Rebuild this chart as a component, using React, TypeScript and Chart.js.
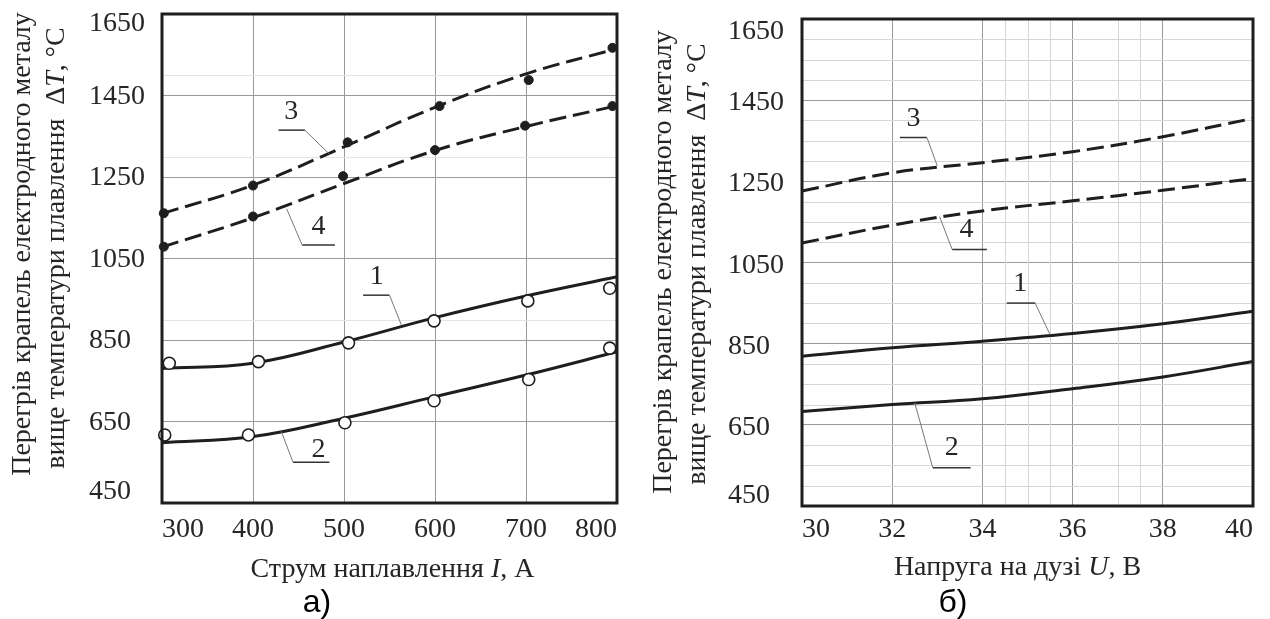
import React, { useEffect, useRef } from 'react';
import { Chart, registerables } from 'chart.js';

Chart.register(...registerables);

// ---- Panel а: drop overheating vs. welding current ----
const currentI = [300, 400, 500, 600, 700, 800];
const fit1I = [780, 793, 845, 905, 958, 1005];
const fit2I = [598, 613, 658, 711, 764, 821];
const fit3I = [1160, 1230, 1324, 1421, 1503, 1565];
const fit4I = [1078, 1150, 1234, 1315, 1374, 1425];

// measured points, panel а
const pts1I = [308, 406, 505, 599, 702, 792];
const pts1T = [793, 797, 843, 897, 946, 977];
const pts2I = [303, 395, 501, 599, 703, 792];
const pts2T = [617, 617, 647, 701, 753, 830];
const pts3I = [302, 400, 504, 605, 703, 795];
const pts3T = [1161, 1229, 1335, 1424, 1488, 1567];
const pts4I = [302, 400, 499, 600, 699, 795];
const pts4T = [1079, 1153, 1252, 1316, 1376, 1424];

// ---- Panel б: drop overheating vs. arc voltage ----
const voltageU = [30, 32, 34, 36, 38, 40];
const fit1U = [819, 840, 856, 875, 899, 930];
const fit2U = [683, 700, 714, 739, 768, 806];
const fit3U = [1226, 1271, 1296, 1323, 1360, 1405];
const fit4U = [1098, 1142, 1177, 1202, 1228, 1257];

// axis ticks
const tempTicks = [450, 650, 850, 1050, 1250, 1450, 1650];
const currentTicks = [300, 400, 500, 600, 700, 800];
const voltageTicks = [30, 32, 34, 36, 38, 40];

// light graph-paper lines
const minorTempA = [900, 1300, 1500];
const minorTempB = [500, 550, 600, 700, 750, 800, 900, 950, 1000, 1100, 1150, 1200, 1300, 1350, 1400, 1500, 1550, 1600];
const minorVoltB = [34.5, 35, 35.5, 37, 37.5];

const SERIF = '"Liberation Serif", "Times New Roman", serif';
const SANS = '"Liberation Sans", Arial, sans-serif';
const INK = '#1e1e1e';
const TEXT = '#262626';
const FONT = 28;

type Run = { text: string; italic?: boolean };
type Note = {
  label: string;
  at: [number, number];
  under: [number, number, number];
  tip: [number, number];
  fromRight: boolean;
};
type Curve = { x: number[]; y: number[]; dashed: boolean };
type Marks = { x: number[]; y: number[]; filled: boolean };

type PanelCfg = {
  id: string;
  offsetX: number;
  yAxisWidth: number;
  padTop: number;
  padRight: number;
  xAxisHeight: number;
  xTickPad: number;
  xMin: number;
  xMax: number;
  xTicks: number[];
  curves: Curve[];
  marks: Marks[];
  minorX: number[];
  minorY: number[];
  minorColor: string;
  notes: Note[];
  xTitle: Run[];
  xTitleDx: number;
  xTitleBase: number;
  yTitle: [Run[], Run[]];
  yTitleX: [number, number];
  yTitleY: [number, number];
  yLabelDx: number;
  yLabelMid: number;
  yLabelTop: number;
  yLabelBottom: number;
  caption: string;
  captionX: number;
  captionBase: number;
};

const yTitleLines: [Run[], Run[]] = [
  [{ text: 'Перегрів крапель електродного металу' }],
  [{ text: 'вище температури плавлення  Δ' }, { text: 'T', italic: true }, { text: ', °C' }],
];

function drawRuns(ctx: CanvasRenderingContext2D, runs: Run[], x: number, y: number, size: number) {
  const fonts = runs.map((r) => `${r.italic ? 'italic ' : ''}${size}px ${SERIF}`);
  const widths = runs.map((r, i) => {
    ctx.font = fonts[i];
    return ctx.measureText(r.text).width;
  });
  const total = widths.reduce((a, b) => a + b, 0);
  let cx = x - total / 2;
  ctx.textAlign = 'left';
  runs.forEach((r, i) => {
    ctx.font = fonts[i];
    ctx.fillText(r.text, cx, y);
    cx += widths[i];
  });
}

const panelA: PanelCfg = {
  id: 'a',
  offsetX: 0,
  yAxisWidth: 162,
  padTop: 14,
  padRight: 18,
  xAxisHeight: 116,
  xTickPad: 10,
  xMin: 300,
  xMax: 800,
  xTicks: currentTicks,
  curves: [
    { x: currentI, y: fit1I, dashed: false },
    { x: currentI, y: fit2I, dashed: false },
    { x: currentI, y: fit3I, dashed: true },
    { x: currentI, y: fit4I, dashed: true },
  ],
  marks: [
    { x: pts1I, y: pts1T, filled: false },
    { x: pts2I, y: pts2T, filled: false },
    { x: pts3I, y: pts3T, filled: true },
    { x: pts4I, y: pts4T, filled: true },
  ],
  minorX: [],
  minorY: minorTempA,
  minorColor: '#e4e4e4',
  notes: [
    { label: '3', at: [442, 1410], under: [428, 457, 1365], tip: [484, 1306], fromRight: true },
    { label: '4', at: [472, 1128], under: [454, 490, 1083], tip: [437, 1172], fromRight: false },
    { label: '1', at: [536, 1005], under: [521, 550, 960], tip: [563, 887], fromRight: true },
    { label: '2', at: [472, 580], under: [444, 484, 550], tip: [431, 626], fromRight: false },
  ],
  xTitle: [{ text: 'Струм наплавлення ' }, { text: 'I', italic: true }, { text: ', А' }],
  xTitleDx: 3,
  xTitleBase: 577,
  yTitle: yTitleLines,
  yTitleX: [30, 64],
  yTitleY: [244, 248],
  yLabelDx: -73,
  yLabelMid: 8,
  yLabelTop: 17,
  yLabelBottom: -4,
  caption: 'а)',
  captionX: 317,
  captionBase: 612,
};

const panelB: PanelCfg = {
  id: 'b',
  offsetX: 635,
  yAxisWidth: 167,
  padTop: 19,
  padRight: 17,
  xAxisHeight: 113,
  xTickPad: 7,
  xMin: 30,
  xMax: 40,
  xTicks: voltageTicks,
  curves: [
    { x: voltageU, y: fit1U, dashed: false },
    { x: voltageU, y: fit2U, dashed: false },
    { x: voltageU, y: fit3U, dashed: true },
    { x: voltageU, y: fit4U, dashed: true },
  ],
  marks: [],
  minorX: minorVoltB,
  minorY: minorTempB,
  minorColor: '#d6d6d6',
  notes: [
    { label: '3', at: [32.47, 1405], under: [32.17, 32.77, 1358], tip: [33.0, 1288], fromRight: true },
    { label: '4', at: [33.65, 1130], under: [33.33, 34.1, 1082], tip: [33.05, 1163], fromRight: false },
    { label: '1', at: [34.84, 998], under: [34.54, 35.17, 950], tip: [35.5, 872], fromRight: true },
    { label: '2', at: [33.32, 595], under: [32.9, 33.74, 544], tip: [32.5, 704], fromRight: false },
  ],
  xTitle: [{ text: 'Напруга на дузі ' }, { text: 'U', italic: true }, { text: ', В' }],
  xTitleDx: -10,
  xTitleBase: 575,
  yTitle: yTitleLines,
  yTitleX: [36, 70],
  yTitleY: [262, 264],
  yLabelDx: -74,
  yLabelMid: 10,
  yLabelTop: 20,
  yLabelBottom: -3,
  caption: 'б)',
  captionX: 318,
  captionBase: 612,
};

function makeDecor(cfg: PanelCfg) {
  return {
    id: 'decor_' + cfg.id,
    beforeDatasetsDraw(chart: any) {
      const { ctx, chartArea: a } = chart;
      const xs = chart.scales.x;
      const ys = chart.scales.y;
      ctx.save();
      ctx.strokeStyle = cfg.minorColor;
      ctx.lineWidth = 1;
      cfg.minorY.forEach((v) => {
        const p = Math.round(ys.getPixelForValue(v)) + 0.5;
        ctx.beginPath();
        ctx.moveTo(a.left, p);
        ctx.lineTo(a.right, p);
        ctx.stroke();
      });
      cfg.minorX.forEach((v) => {
        const p = Math.round(xs.getPixelForValue(v)) + 0.5;
        ctx.beginPath();
        ctx.moveTo(p, a.top);
        ctx.lineTo(p, a.bottom);
        ctx.stroke();
      });
      ctx.restore();
    },
    afterDatasetsDraw(chart: any) {
      const { ctx } = chart;
      const xs = chart.scales.x;
      const ys = chart.scales.y;
      const px = (v: number) => xs.getPixelForValue(v);
      const py = (v: number) => ys.getPixelForValue(v);
      ctx.save();
      cfg.notes.forEach((n) => {
        const [u0, u1, uy] = n.under;
        ctx.strokeStyle = '#333';
        ctx.lineWidth = 1.5;
        ctx.beginPath();
        ctx.moveTo(px(u0), py(uy));
        ctx.lineTo(px(u1), py(uy));
        ctx.stroke();
        ctx.strokeStyle = '#777';
        ctx.lineWidth = 1;
        ctx.beginPath();
        ctx.moveTo(px(n.fromRight ? u1 : u0), py(uy));
        ctx.lineTo(px(n.tip[0]), py(n.tip[1]));
        ctx.stroke();
        ctx.fillStyle = TEXT;
        ctx.font = `${FONT}px ${SERIF}`;
        ctx.textAlign = 'center';
        ctx.textBaseline = 'middle';
        ctx.fillText(n.label, px(n.at[0]), py(n.at[1]));
      });
      ctx.restore();
    },
    afterDraw(chart: any) {
      const { ctx, chartArea: a } = chart;
      const ys = chart.scales.y;
      ctx.save();
      // plot frame
      ctx.strokeStyle = INK;
      ctx.lineWidth = 3;
      ctx.strokeRect(a.left, a.top, a.right - a.left, a.bottom - a.top);

      // temperature tick labels, left aligned
      ctx.fillStyle = TEXT;
      ctx.font = `${FONT}px ${SERIF}`;
      ctx.textAlign = 'left';
      ctx.textBaseline = 'alphabetic';
      const lo = tempTicks[0];
      const hi = tempTicks[tempTicks.length - 1];
      tempTicks.forEach((v) => {
        let y = ys.getPixelForValue(v) + cfg.yLabelMid;
        if (v === hi) y = a.top + cfg.yLabelTop;
        if (v === lo) y = a.bottom + cfg.yLabelBottom;
        ctx.fillText(String(v), a.left + cfg.yLabelDx, y);
      });

      // x axis title
      drawRuns(ctx, cfg.xTitle, (a.left + a.right) / 2 + cfg.xTitleDx, cfg.xTitleBase, FONT);

      // y axis title, two rotated lines
      cfg.yTitle.forEach((runs, i) => {
        ctx.save();
        ctx.translate(cfg.yTitleX[i], cfg.yTitleY[i]);
        ctx.rotate(-Math.PI / 2);
        drawRuns(ctx, runs, 0, 0, FONT);
        ctx.restore();
      });

      // panel caption
      ctx.fillStyle = '#000';
      ctx.font = `32px ${SANS}`;
      ctx.textAlign = 'center';
      ctx.fillText(cfg.caption, cfg.captionX, cfg.captionBase);
      ctx.restore();
    },
  };
}

function Panel({ cfg }: { cfg: PanelCfg }) {
  const ref = useRef<HTMLCanvasElement>(null);

  useEffect(() => {
    const canvas = ref.current;
    if (!canvas) return;

    const markSets = cfg.marks.map((m) => ({
      type: 'line' as const,
      data: m.x.map((x, i) => ({ x, y: m.y[i] })),
      showLine: false,
      pointRadius: m.filled ? 4.5 : 6,
      pointHoverRadius: 0,
      pointBackgroundColor: m.filled ? INK : '#ffffff',
      pointBorderColor: INK,
      pointBorderWidth: m.filled ? 1 : 1.6,
      clip: false as any,
    }));
    const curveSets = cfg.curves.map((c) => ({
      type: 'line' as const,
      data: c.x.map((x, i) => ({ x, y: c.y[i] })),
      borderColor: INK,
      borderWidth: 3,
      borderDash: c.dashed ? [17, 7] : [],
      pointRadius: 0,
      tension: 0.4,
      fill: false,
      clip: 2 as any,
    }));

    const chart = new Chart(canvas, {
      type: 'line',
      data: { datasets: [...markSets, ...curveSets] as any },
      options: {
        animation: false,
        responsive: false,
        devicePixelRatio: 1,
        events: [],
        layout: { padding: { left: 0, top: cfg.padTop, right: cfg.padRight, bottom: 0 } },
        plugins: { legend: { display: false }, tooltip: { enabled: false }, title: { display: false } },
        scales: {
          x: {
            type: 'linear',
            min: cfg.xMin,
            max: cfg.xMax,
            afterBuildTicks: (s: any) => {
              s.ticks = cfg.xTicks.map((v) => ({ value: v }));
            },
            afterFit: (s: any) => {
              s.height = cfg.xAxisHeight;
            },
            grid: { color: '#9a9a9a', lineWidth: 1, drawTicks: false },
            border: { display: false },
            ticks: {
              align: 'inner',
              maxRotation: 0,
              autoSkip: false,
              padding: cfg.xTickPad,
              color: TEXT,
              font: { family: SERIF, size: FONT, lineHeight: 1.2 },
            },
          },
          y: {
            type: 'linear',
            min: tempTicks[0],
            max: tempTicks[tempTicks.length - 1],
            afterBuildTicks: (s: any) => {
              s.ticks = tempTicks.map((v) => ({ value: v }));
            },
            afterFit: (s: any) => {
              s.width = cfg.yAxisWidth;
            },
            grid: { color: '#9a9a9a', lineWidth: 1, drawTicks: false },
            border: { display: false },
            ticks: { display: false },
          },
        },
      },
      plugins: [makeDecor(cfg)],
    });
    return () => chart.destroy();
  }, [cfg]);

  return (
    <canvas
      ref={ref}
      width={635}
      height={619}
      style={{ position: 'absolute', left: cfg.offsetX, top: 0, width: 635, height: 619 }}
    />
  );
}

export default function App() {
  return (
    <div style={{ position: 'fixed', left: 0, top: 0, width: 1270, height: 619, background: '#ffffff' }}>
      <Panel cfg={panelA} />
      <Panel cfg={panelB} />
    </div>
  );
}
